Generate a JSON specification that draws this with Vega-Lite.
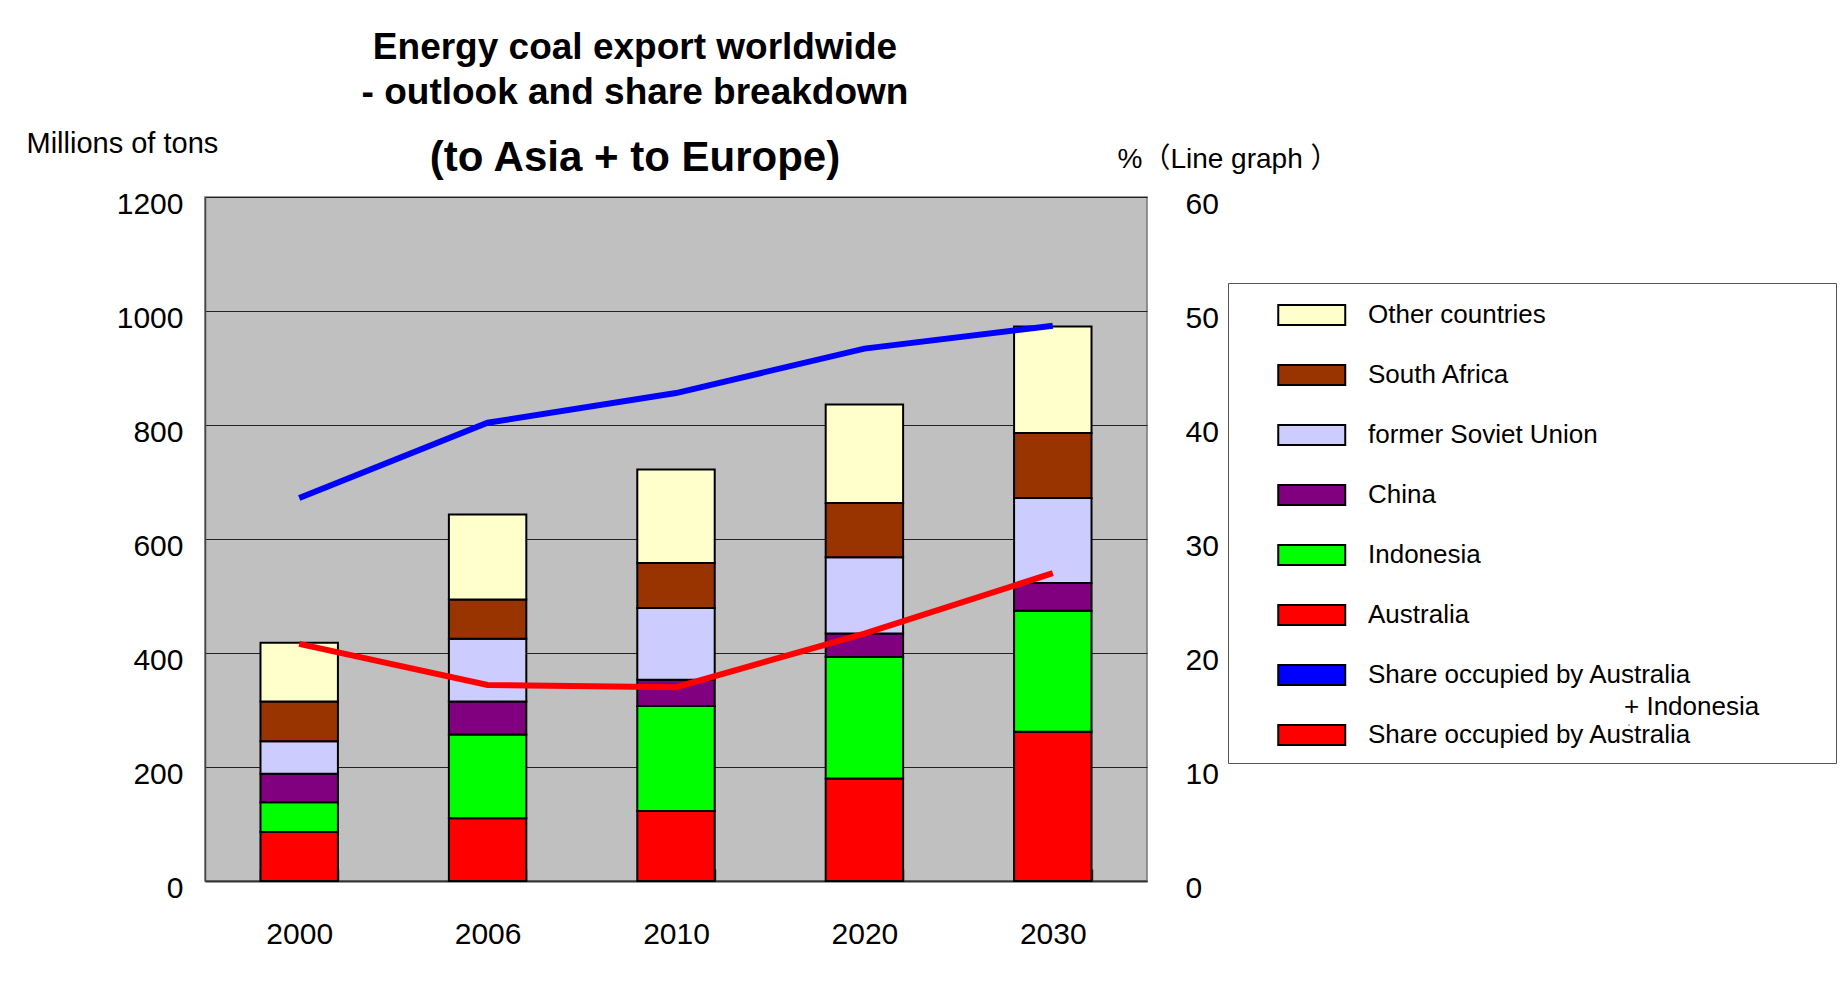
{
  "$schema": "https://vega.github.io/schema/vega-lite/v6.json",
  "width": 942,
  "height": 684,
  "autosize": {"type": "none"},
  "padding": {"left": 205, "top": 197, "right": 699, "bottom": 113},
  "background": "white",
  "title": {
    "text": ["Energy coal export worldwide", "- outlook and share breakdown"],
    "subtitle": "(to Asia + to Europe)",
    "anchor": "middle",
    "frame": "group",
    "dx": -41,
    "offset": -51,
    "font": "Liberation Sans",
    "fontSize": 37,
    "fontWeight": "bold",
    "lineHeight": 45,
    "color": "black",
    "subtitleFont": "Liberation Sans",
    "subtitleFontSize": 42,
    "subtitleFontWeight": "bold",
    "subtitleColor": "black",
    "subtitlePadding": 26
  },
  "datasets": {
    "exports": [
      {"year": "2000", "country": "Australia", "k": 1, "tons": 86},
      {"year": "2000", "country": "Indonesia", "k": 2, "tons": 52},
      {"year": "2000", "country": "China", "k": 3, "tons": 50},
      {"year": "2000", "country": "former Soviet Union", "k": 4, "tons": 57},
      {"year": "2000", "country": "South Africa", "k": 5, "tons": 70},
      {"year": "2000", "country": "Other countries", "k": 6, "tons": 103},
      {"year": "2006", "country": "Australia", "k": 1, "tons": 110},
      {"year": "2006", "country": "Indonesia", "k": 2, "tons": 147},
      {"year": "2006", "country": "China", "k": 3, "tons": 58},
      {"year": "2006", "country": "former Soviet Union", "k": 4, "tons": 110},
      {"year": "2006", "country": "South Africa", "k": 5, "tons": 69},
      {"year": "2006", "country": "Other countries", "k": 6, "tons": 149},
      {"year": "2010", "country": "Australia", "k": 1, "tons": 123},
      {"year": "2010", "country": "Indonesia", "k": 2, "tons": 184},
      {"year": "2010", "country": "China", "k": 3, "tons": 46},
      {"year": "2010", "country": "former Soviet Union", "k": 4, "tons": 126},
      {"year": "2010", "country": "South Africa", "k": 5, "tons": 79},
      {"year": "2010", "country": "Other countries", "k": 6, "tons": 164},
      {"year": "2020", "country": "Australia", "k": 1, "tons": 180},
      {"year": "2020", "country": "Indonesia", "k": 2, "tons": 213},
      {"year": "2020", "country": "China", "k": 3, "tons": 41},
      {"year": "2020", "country": "former Soviet Union", "k": 4, "tons": 134},
      {"year": "2020", "country": "South Africa", "k": 5, "tons": 95},
      {"year": "2020", "country": "Other countries", "k": 6, "tons": 173},
      {"year": "2030", "country": "Australia", "k": 1, "tons": 262},
      {"year": "2030", "country": "Indonesia", "k": 2, "tons": 212},
      {"year": "2030", "country": "China", "k": 3, "tons": 49},
      {"year": "2030", "country": "former Soviet Union", "k": 4, "tons": 149},
      {"year": "2030", "country": "South Africa", "k": 5, "tons": 114},
      {"year": "2030", "country": "Other countries", "k": 6, "tons": 187}
    ],
    "shares": [
      {"year": "2000", "series": "Share occupied by Australia + Indonesia", "pct": 33.6},
      {"year": "2006", "series": "Share occupied by Australia + Indonesia", "pct": 40.2},
      {"year": "2010", "series": "Share occupied by Australia + Indonesia", "pct": 42.8},
      {"year": "2020", "series": "Share occupied by Australia + Indonesia", "pct": 46.7},
      {"year": "2030", "series": "Share occupied by Australia + Indonesia", "pct": 48.7},
      {"year": "2000", "series": "Share occupied by Australia", "pct": 20.8},
      {"year": "2006", "series": "Share occupied by Australia", "pct": 17.2},
      {"year": "2010", "series": "Share occupied by Australia", "pct": 17.0},
      {"year": "2020", "series": "Share occupied by Australia", "pct": 21.7},
      {"year": "2030", "series": "Share occupied by Australia", "pct": 27.0}
    ]
  },
  "layer": [
    {
      "data": {"name": "exports"},
      "mark": {"type": "bar", "stroke": "black", "strokeWidth": 2},
      "encoding": {
        "x": {
          "field": "year",
          "type": "nominal",
          "scale": {"paddingInner": 0.589, "paddingOuter": 0.2945},
          "axis": {
            "title": null,
            "labelFont": "Liberation Sans",
            "labelFontSize": 30,
            "labelColor": "black",
            "labelAngle": 0,
            "labelPadding": 50,
            "tickBand": "extent",
            "tickSize": -12,
            "tickColor": "#333",
            "tickWidth": 1.5,
            "domainColor": "#333",
            "domainWidth": 2
          }
        },
        "y": {
          "field": "tons",
          "type": "quantitative",
          "stack": "zero",
          "scale": {"domain": [0, 1200]},
          "axis": {
            "title": "Millions of tons",
            "titleAngle": 0,
            "titleAlign": "left",
            "titleBaseline": "alphabetic",
            "titleX": -179,
            "titleY": -45,
            "titleFont": "Liberation Sans",
            "titleFontSize": 29,
            "titleFontWeight": "normal",
            "titleColor": "black",
            "values": [0, 200, 400, 600, 800, 1000, 1200],
            "format": "d",
            "labelFont": "Liberation Sans",
            "labelFontSize": 30,
            "labelColor": "black",
            "labelPadding": 22,
            "labelOffset": 7,
            "ticks": false,
            "grid": true,
            "gridColor": "#222",
            "gridWidth": 1,
            "domainColor": "#444",
            "domainWidth": 1.5
          }
        },
        "color": {
          "field": "country",
          "type": "nominal",
          "scale": {
            "domain": ["Other countries", "South Africa", "former Soviet Union", "China", "Indonesia", "Australia", "Share occupied by Australia + Indonesia", "Share occupied by Australia"],
            "range": ["#ffffcc", "#993300", "#ccccff", "#800080", "#00ff00", "#ff0000", "#0000ff", "#ff0000"]
          },
          "legend": {
            "orient": "none",
            "legendX": 1023,
            "legendY": 86,
            "title": null,
            "strokeColor": "#555",
            "padding": 14,
            "symbolType": "M1.0896,-0.597H5.0896V0.597H1.0896Z",
            "symbolSize": 1122,
            "symbolStrokeColor": "black",
            "symbolStrokeWidth": 2,
            "labelFont": "Liberation Sans",
            "labelFontSize": 26,
            "labelColor": "black",
            "labelOffset": 90,
            "labelLimit": 0,
            "rowPadding": 28,
            "labelExpr": "datum.value == 'Share occupied by Australia + Indonesia' ? 'Share occupied by Australia\u00a0\u00a0\u00a0\u00a0\u00a0\u00a0\u00a0\u00a0\u00a0\u00a0\u00a0\u00a0\u00a0\u00a0\u00a0\u00a0\u00a0\u00a0\u200b' : datum.label",
            "encode": {
              "symbols": {
                "update": {
                  "fill": {"scale": "color", "field": "value"},
                  "stroke": {"value": "black"},
                  "strokeOpacity": {"value": 1},
                  "strokeWidth": {"value": 2},
                  "opacity": {"value": 1}
                }
              }
            }
          }
        },
        "order": {"field": "k", "type": "quantitative"},
        "opacity": {
          "field": "k",
          "type": "quantitative",
          "scale": {"range": [1, 1]},
          "legend": {
            "orient": "none",
            "legendX": 1419,
            "legendY": 497,
            "title": "+ Indonesia",
            "titleFont": "Liberation Sans",
            "titleFontSize": 26,
            "titleFontWeight": "normal",
            "titleColor": "black",
            "titlePadding": 0,
            "padding": 0,
            "values": [3],
            "labelOpacity": 0,
            "symbolOpacity": 0,
            "symbolStrokeWidth": 0,
            "symbolSize": 1
          }
        }
      }
    },
    {
      "data": {"name": "shares"},
      "mark": {"type": "line", "strokeWidth": 6, "strokeCap": "butt"},
      "encoding": {
        "x": {"field": "year", "type": "nominal"},
        "y": {
          "field": "pct",
          "type": "quantitative",
          "scale": {"domain": [0, 60]},
          "axis": {
            "orient": "right",
            "title": "%（Line graph ）",
            "titleAngle": 0,
            "titleAlign": "left",
            "titleBaseline": "alphabetic",
            "titleX": -30,
            "titleY": -30,
            "titleFont": "Liberation Sans, Noto Sans CJK JP",
            "titleFontSize": 28,
            "titleFontWeight": "normal",
            "titleColor": "black",
            "values": [0, 10, 20, 30, 40, 50, 60],
            "labelFont": "Liberation Sans",
            "labelFontSize": 30,
            "labelColor": "black",
            "labelAlign": "left",
            "labelPadding": 38,
            "labelOffset": 7,
            "ticks": false,
            "grid": false,
            "domain": false
          }
        },
        "color": {"field": "series", "type": "nominal", "legend": null}
      }
    }
  ],
  "resolve": {"scale": {"y": "independent"}, "legend": {"color": "independent"}},
  "config": {
    "view": {"fill": "#c0c0c0", "stroke": "#777", "strokeWidth": 1.5},
    "font": "Liberation Sans"
  }
}
